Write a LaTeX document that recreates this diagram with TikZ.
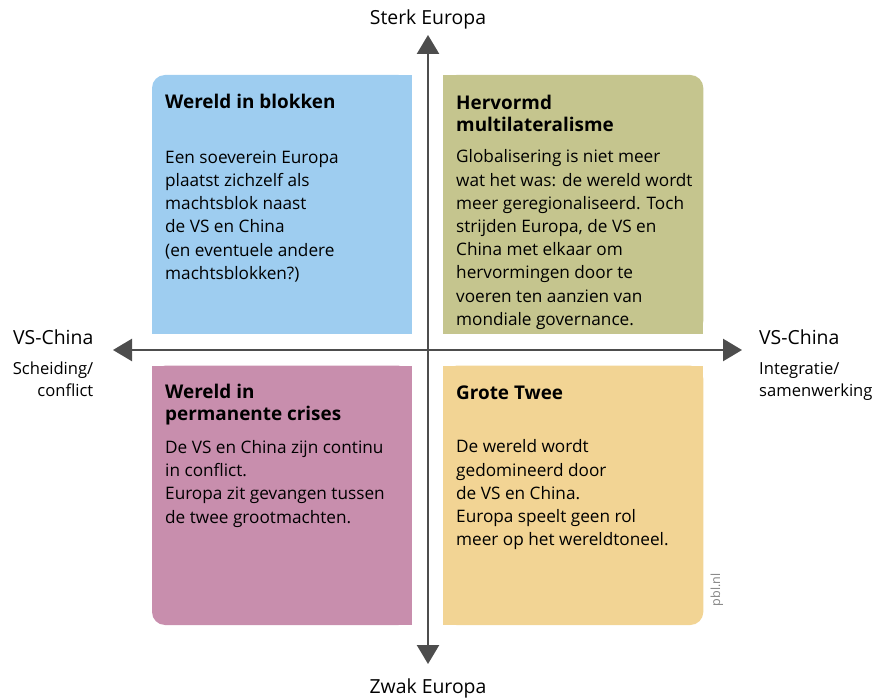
\documentclass[tikz,border=0pt]{standalone}
\usepackage{fontspec}
\setmainfont{Open Sans}
\usetikzlibrary{arrows.meta}

\definecolor{qblue}{RGB}{158,205,240}
\definecolor{qgreen}{RGB}{197,197,142}
\definecolor{qpink}{RGB}{200,142,173}
\definecolor{qyellow}{RGB}{242,212,148}
\definecolor{axisgray}{RGB}{77,77,77}
\definecolor{creditgray}{RGB}{130,130,130}

\begin{document}
\begin{tikzpicture}[x=1pt,y=-1pt,
  body/.style={anchor=north west, inner sep=0pt, align=left,
    font=\fontsize{17.2}{23.2}\selectfont},
  title/.style={anchor=north west, inner sep=0pt, align=left,
    font=\fontsize{18.9}{21.5}\selectfont\bfseries},
  axislabel/.style={inner sep=0pt, font=\fontsize{19.4}{22}\selectfont},
  sublabel/.style={inner sep=0pt, font=\fontsize{16.6}{21.7}\selectfont},
  axisline/.style={line width=2.6pt, draw=axisgray,
    {Triangle[length=19pt,width=22pt]}-{Triangle[length=19pt,width=22pt]}},
  corner/.style={rounded corners=13pt}
]
\useasboundingbox (0,0) rectangle (876,700);

% quadrant panels: each keeps one rounded outer corner
% top left (blue)
\fill[qblue, corner] (152,75) rectangle (411.7,334);
\fill[qblue] (180,75) rectangle (411.7,334);
\fill[qblue] (152,100) rectangle (411.7,334);
% top right (green)
\fill[qgreen, corner] (443.3,75) rectangle (703.3,334);
\fill[qgreen] (443.3,75) rectangle (675,334);
\fill[qgreen] (443.3,100) rectangle (703.3,334);
% bottom left (pink)
\fill[qpink, corner] (152,365.7) rectangle (411.7,625);
\fill[qpink] (180,365.7) rectangle (411.7,625);
\fill[qpink] (152,365.7) rectangle (411.7,600);
% bottom right (yellow)
\fill[qyellow, corner] (443.3,365.7) rectangle (703.3,625);
\fill[qyellow] (443.3,365.7) rectangle (675,625);
\fill[qyellow] (443.3,365.7) rectangle (703.3,600);

% axes
\coordinate (ytop) at (428,35);
\coordinate (ybot) at (428,664);
\coordinate (xleft) at (113,350);
\coordinate (xright) at (742,350);
\draw[axisline] (ybot) -- (ytop);
\draw[axisline] (xleft) -- (xright);

% axis labels
\node[axislabel, anchor=base] (sterk) at (428,25) {Sterk Europa};
\node[axislabel, anchor=base] (zwak) at (428,693) {Zwak Europa};
\node[axislabel, anchor=base east] (vsl) at (93.5,344.3) {VS-China};
\node[sublabel, anchor=base east] (scheiding) at (93.5,375) {Scheiding/};
\node[sublabel, anchor=base east] (conflict) at (93.5,396.7) {conflict};
\node[axislabel, anchor=base west] (vsr) at (759,344.3) {VS-China};
\node[sublabel, anchor=base west] (integratie) at (759,375) {Integratie/};
\node[sublabel, anchor=base west] (samen) at (759,396.7) {samenwerking};

% quadrant texts
\node[title] (t1) at (165,93.6) {\strut Wereld in blokken};
\node[body] (b1) at (165,146.8) {\strut Een soeverein Europa\\
  plaatst zichzelf als\\ machtsblok naast\\ de VS en China\\
  (en eventuele andere\\ machtsblokken?)};

\node[title] (t2) at (456,94.6) {\strut Hervormd\\ multilateralisme};
\node[body] (b2) at (456,146.5) {\strut Globalisering is niet meer\\
  wat het was: de wereld wordt\\ meer geregionaliseerd. Toch\\
  strijden Europa, de VS en\\ China met elkaar om\\
  hervormingen door te\\ voeren ten aanzien van\\ mondiale governance.};

\node[title] (t3) at (165,383.3) {\strut Wereld in\\ permanente crises};
\node[body] (b3) at (165,437.1) {\strut De VS en China zijn continu\\
  in conflict.\\ Europa zit gevangen tussen\\ de twee grootmachten.};

\node[title] (t4) at (456,384.6) {\strut Grote Twee};
\node[body] (b4) at (456,436.5) {\strut De wereld wordt\\
  gedomineerd door\\ de VS en China.\\ Europa speelt geen rol\\
  meer op het wereldtoneel.};

% credit
\node[inner sep=0pt, anchor=base, rotate=90, text=creditgray,
  font=\fontsize{12.5}{14}\selectfont] (credit) at (720,590) {pbl.nl};
\end{tikzpicture}
\end{document}
